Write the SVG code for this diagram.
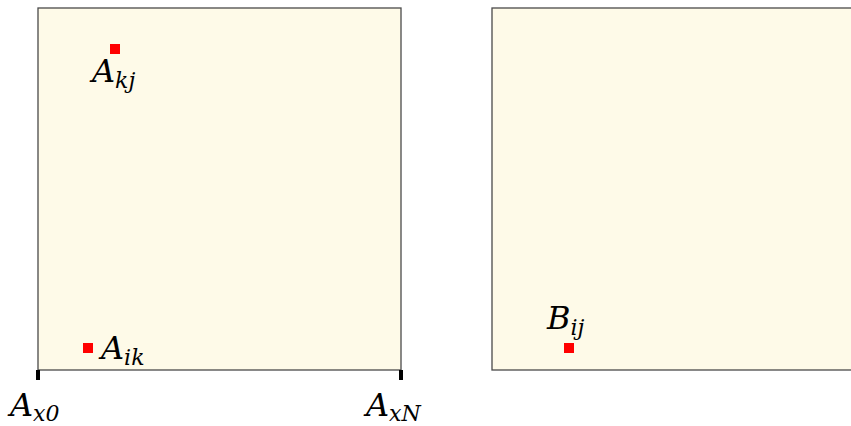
<svg xmlns="http://www.w3.org/2000/svg" width="851" height="426" viewBox="0 0 851 426">
<style>
.box{fill:#fefae8;stroke:#4a4a4a;stroke-width:1.3}
.pt{fill:#ff0000}
.tick{stroke:#000;stroke-width:4}
.lbl{font-family:"DejaVu Serif",serif;font-style:italic;font-size:32px;fill:#000}
.sub{font-size:22px}
</style>
<g id="matrixA">
<rect class="box" x="38" y="8" width="363" height="362"/>
</g>
<g id="matrixB">
<rect class="box" x="492" y="8" width="370" height="362"/>
</g>
<g id="ticks">
<line class="tick" x1="38" y1="370" x2="38" y2="380"/>
<line class="tick" x1="401" y1="370" x2="401" y2="380"/>
</g>
<g id="Akj">
<rect class="pt" x="110" y="44" width="10" height="10"/>
<text class="lbl" x="92" y="82">A<tspan class="sub" dy="6">kj</tspan></text>
</g>
<g id="Aik">
<rect class="pt" x="83" y="343" width="10" height="10"/>
<text class="lbl" x="101" y="359">A<tspan class="sub" dy="6">ik</tspan></text>
</g>
<g id="Bij">
<rect class="pt" x="564" y="343" width="10" height="10"/>
<text class="lbl" x="547" y="329">B<tspan class="sub" dy="6">ij</tspan></text>
</g>
<g id="Ax0">
<text class="lbl" x="10" y="416">A<tspan class="sub" dy="5">x0</tspan></text>
</g>
<g id="AxN">
<text class="lbl" x="366" y="416">A<tspan class="sub" dy="5">xN</tspan></text>
</g>
</svg>
